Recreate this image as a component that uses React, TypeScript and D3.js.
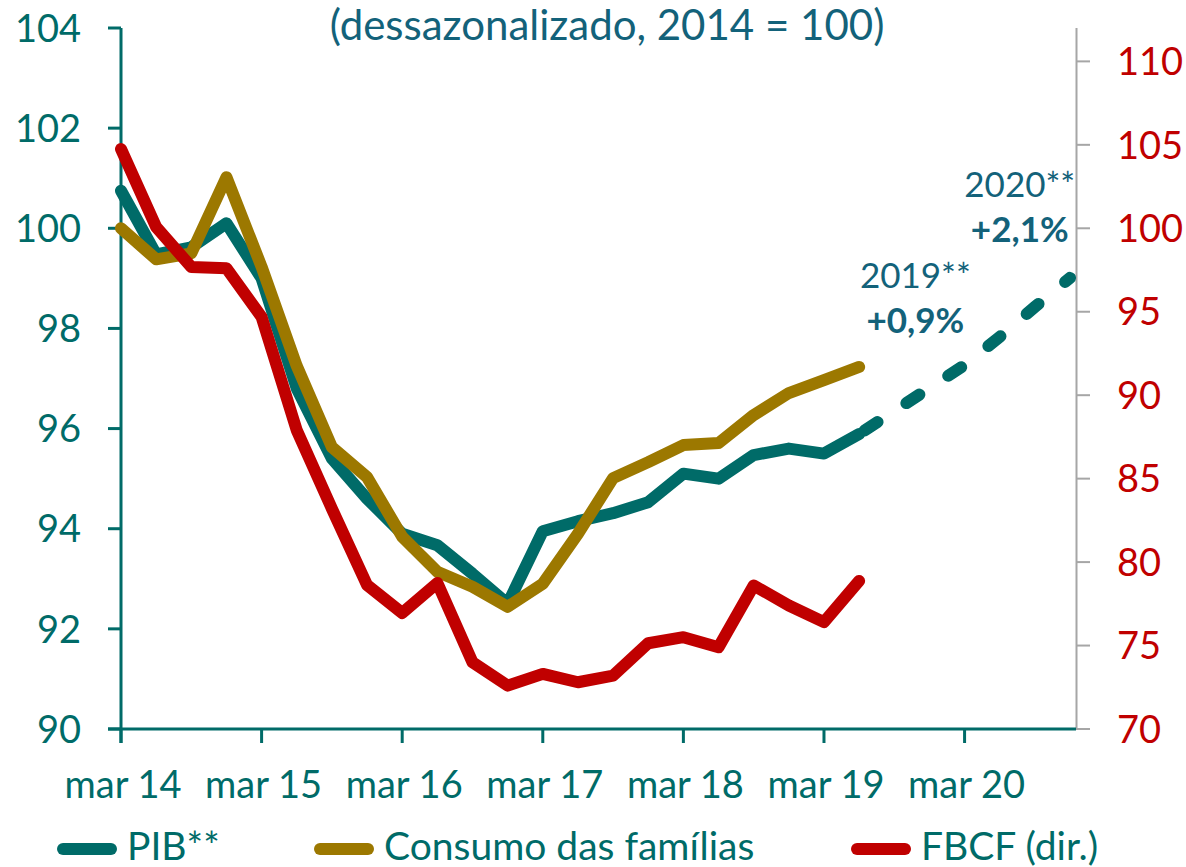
import React from "react";
import * as d3 from "d3";

const quarters = [
  "mar 14", "jun 14", "set 14", "dez 14",
  "mar 15", "jun 15", "set 15", "dez 15",
  "mar 16", "jun 16", "set 16", "dez 16",
  "mar 17", "jun 17", "set 17", "dez 17",
  "mar 18", "jun 18", "set 18", "dez 18",
  "mar 19", "jun 19", "set 19", "dez 19",
  "mar 20", "jun 20", "set 20", "dez 20",
];

const pib = [100.75, 99.48, 99.62, 100.1, 99.0, 96.8, 95.4, 94.6, 93.9, 93.67, 93.1, 92.5,
  93.95, 94.15, 94.31, 94.53, 95.1, 95.0, 95.47, 95.6, 95.5, 95.89];
const pibForecast = [95.89, 96.35, 96.81, 97.27, 97.83, 98.43, 99.01];
const consumo = [100.0, 99.38, 99.5, 101.02, 99.23, 97.25, 95.63, 95.03, 93.84, 93.14, 92.84, 92.44,
  92.9, 93.9, 95.01, 95.33, 95.67, 95.71, 96.27, 96.71, 96.97, 97.23];
const fbcf = [104.75, 100.08, 97.68, 97.6, 94.68, 87.9, 83.2, 78.63, 76.95, 78.75, 74.0, 72.6,
  73.3, 72.8, 73.2, 75.14, 75.5, 74.9, 78.6, 77.4, 76.4, 78.87];

const leftTicks = [90, 92, 94, 96, 98, 100, 102, 104];
const rightTicks = [70, 75, 80, 85, 90, 95, 100, 105, 110];
const xTickLabels = ["mar 14", "mar 15", "mar 16", "mar 17", "mar 18", "mar 19", "mar 20"];

const legendItems = ["PIB**", "Consumo das famílias", "FBCF (dir.)"];
const annotations = [
  { label: "2019**", value: "+0,9%", idx: 22.6, y: 98.81 },
  { label: "2020**", value: "+2,1%", idx: 25.57, y: 100.63 },
];

const TEAL = "#006B68";
const GOLD = "#9C7800";
const RED = "#C00000";
const TITLE = "#13627A";
const GREY = "#A6A6A6";
const FONT = "Lato, 'Open Sans', sans-serif";

export default function App() {
  const W = 1186, H = 867;
  const x = d3.scaleLinear().domain([0, 27.17]).range([121, 1076]);
  const yL = d3.scaleLinear().domain([90, 104]).range([729, 28]);
  const yR = d3.scaleLinear().domain([70, 112]).range([729, 28]);

  const lineL = d3.line<number>().x((_, i) => x(i)).y((d) => yL(d));
  const lineF = d3.line<number>().x((_, i) => x(i + pib.length - 1)).y((d) => yL(d));
  const lineR = d3.line<number>().x((_, i) => x(i)).y((d) => yR(d));

  const xTickIdx = xTickLabels.map((l) => quarters.indexOf(l));
  const legendX = [57, 314, 851];

  return (
    <div style={{ position: "absolute", left: 0, top: 0 }}>
      <svg width={W} height={H} style={{ display: "block", fontFamily: FONT }}>
        <rect width={W} height={H} fill="#fff" />
        <text x={607} y={40} textAnchor="middle" fontSize={42} fill={TITLE}>
          (dessazonalizado, 2014 = 100)
        </text>

        {/* right axis */}
        <line x1={1076.5} x2={1076.5} y1={28} y2={729} stroke={GREY} strokeWidth={2} />
        {rightTicks.map((t) => (
          <g key={"r" + t}>
            <line x1={1076} x2={1090} y1={yR(t)} y2={yR(t)} stroke={GREY} strokeWidth={2} />
            <text x={1117} y={yR(t)} dy="0.36em" fontSize={38} fill={RED}>{t}</text>
          </g>
        ))}

        {/* left axis */}
        <line x1={121} x2={121} y1={28} y2={743} stroke={TEAL} strokeWidth={3} />
        {leftTicks.map((t) => (
          <g key={"l" + t}>
            <line x1={108} x2={121} y1={yL(t)} y2={yL(t)} stroke={TEAL} strokeWidth={3} />
            <text x={81} y={yL(t)} dy="0.36em" textAnchor="end" fontSize={38} fill={TEAL}>{t}</text>
          </g>
        ))}

        {/* bottom axis */}
        <line x1={108} x2={1076} y1={729} y2={729} stroke={TEAL} strokeWidth={3} />
        {xTickIdx.map((i, k) => (
          <g key={"x" + i}>
            <line x1={x(i)} x2={x(i)} y1={729} y2={743} stroke={TEAL} strokeWidth={3} />
            <text x={x(i) + 2} y={798} textAnchor="middle" fontSize={38} fill={TEAL}>{xTickLabels[k]}</text>
          </g>
        ))}

        {/* series */}
        <path d={lineF(pibForecast) || ""} fill="none" stroke={TEAL} strokeWidth={12}
          strokeLinecap="round" strokeDasharray="15.5 34.5" strokeDashoffset={43.5} />
        <path d={lineL(pib) || ""} fill="none" stroke={TEAL} strokeWidth={12}
          strokeLinecap="round" strokeLinejoin="round" />
        <path d={lineL(consumo) || ""} fill="none" stroke={GOLD} strokeWidth={12}
          strokeLinecap="round" strokeLinejoin="round" />
        <path d={lineR(fbcf) || ""} fill="none" stroke={RED} strokeWidth={12}
          strokeLinecap="round" strokeLinejoin="round" />

        {/* annotations */}
        {annotations.map((a) => (
          <g key={a.label}>
            <text x={x(a.idx)} y={yL(a.y)} textAnchor="middle" fontSize={35} fill={TITLE}>{a.label}</text>
            <text x={x(a.idx)} y={yL(a.y) + 45} textAnchor="middle" fontSize={35} fontWeight="bold" fill={TITLE}>{a.value}</text>
          </g>
        ))}

        {/* legend */}
        {legendItems.map((l, k) => (
          <g key={l}>
            <line x1={legendX[k] + 6} x2={legendX[k] + 54} y1={849} y2={849}
              stroke={[TEAL, GOLD, RED][k]} strokeWidth={12} strokeLinecap="round" />
            <text x={legendX[k] + 70} y={860} fontSize={39} fill={TEAL}>{l}</text>
          </g>
        ))}
      </svg>
    </div>
  );
}
